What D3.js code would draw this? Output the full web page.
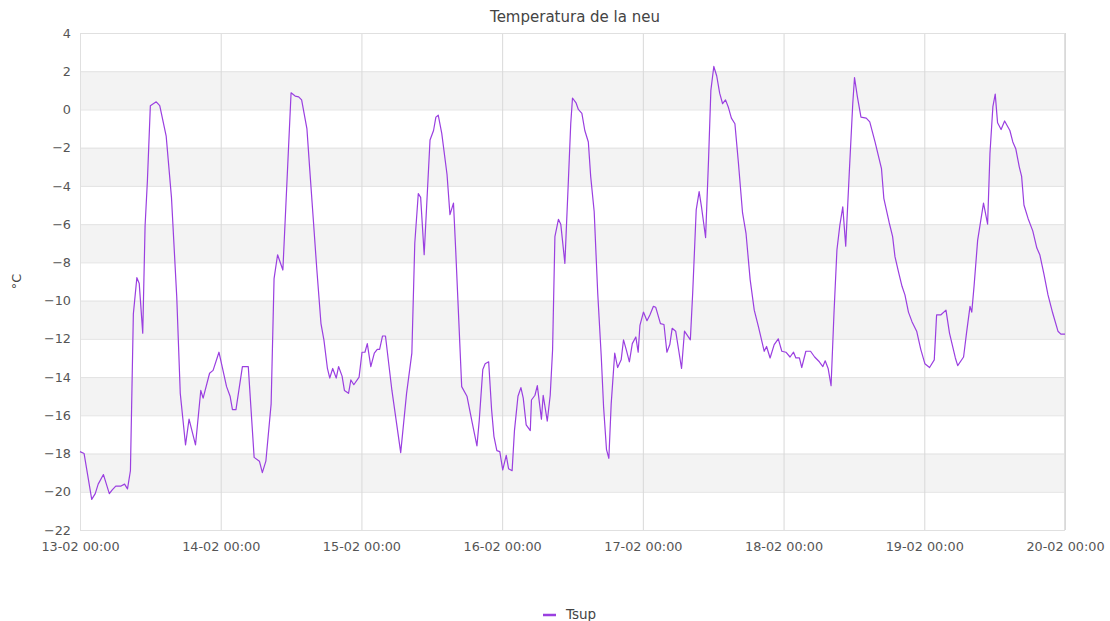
<!DOCTYPE html>
<html lang="ca">
<head>
    <meta charset="UTF-8">
    <title>Temperatura de la neu</title>
    <script src="https://cdn.jsdelivr.net/npm/d3@7/dist/d3.min.js"></script>
    <style>
        html, body {
            margin: 0;
            padding: 0;
            background: #fff;
        }
        #chart text {
            font-family: "DejaVu Sans", Verdana, sans-serif;
        }
    </style>
</head>
<body>
<div id="chart"></div>

<script>
    // hores des de 13-02 00:00
    var hores = [
        0, 0.7, 2.0, 2.6, 3.1, 4.0, 5.0, 5.5, 6.1, 7.0, 7.6, 8.1, 8.6, 9.1, 9.7, 10.1, 10.7, 11.1, 11.5,
        12.0, 13.0, 13.6, 14.7, 15.6, 16.5, 17.1, 18.0, 18.6, 19.7, 20.6, 21.0, 22.1, 22.7, 23.7,
        25.0, 25.6, 26.0, 26.6, 27.7, 28.7, 29.7, 30.6, 31.1, 31.7, 32.6, 33.1, 33.7, 34.6, 35.1,
        36.0, 36.7, 37.3, 37.8, 38.7, 39.2, 39.8, 40.4, 41.1, 41.6, 42.2, 42.6, 43.1, 43.7, 44.1,
        44.7, 45.1, 45.8, 46.2, 46.7, 47.6, 48.1, 48.6, 49.0, 49.6, 50.2, 50.7, 51.1, 51.6, 52.1,
        53.2, 54.7, 55.7, 56.6, 57.1, 57.7, 58.1, 58.7, 59.7, 60.3, 60.7, 61.1, 61.7, 62.6, 63.1,
        63.7, 64.1, 65.1, 66.0, 66.9, 67.7, 68.1, 68.7, 69.1, 69.7, 70.2, 70.6, 71.1, 71.6, 72.1,
        72.7, 73.1, 73.7, 74.1, 74.7, 75.2, 75.6, 76.1, 76.8, 77.0, 77.6, 78.0, 78.7, 79.0, 79.7,
        80.2, 80.6, 81.0, 81.6, 82.0, 82.7, 83.3, 83.7, 84.0, 84.6, 85.0, 85.6, 86.1, 86.7, 87.1,
        87.7, 88.3, 88.9, 89.3, 89.8, 90.2, 90.6, 91.2, 91.7, 92.3, 92.7, 93.2, 93.7, 94.2, 94.8,
        95.2, 95.5, 96.1, 96.7, 97.2, 97.8, 98.2, 99.0, 99.6, 100.1, 100.6, 101.0, 101.6, 102.6,
        103.1, 104.1, 104.5, 105.1, 105.6, 106.0, 106.7, 107.2, 107.6, 108.1, 108.6, 109.1, 109.6,
        110.1, 110.6, 111.1, 111.7, 112.3, 113.0, 113.6, 114.3, 115.0, 115.7, 116.7, 117.1, 117.7,
        118.4, 119.1, 119.7, 120.4, 121.1, 121.7, 122.1, 122.7, 123.1, 123.8, 124.6, 125.3, 126.1,
        126.7, 127.1, 127.6, 128.1, 128.6, 129.1, 129.6, 130.1, 130.6, 131.2, 131.8, 132.1, 132.6,
        133.2, 134.1, 134.7, 135.6, 136.7, 137.1, 138.0, 138.6, 139.0, 139.6, 140.2, 140.7, 141.3,
        141.9, 142.7, 143.4, 144.1, 144.9, 145.7, 146.1, 146.8, 147.7, 148.3, 149.3, 149.7, 150.7,
        151.2, 151.8, 152.1, 152.5, 153.1, 154.1, 154.8, 155.2, 155.7, 156.1, 156.5, 157.1, 157.7,
        158.6, 159.1, 159.6, 160.2, 160.6, 161.0, 161.7, 162.5, 163.2, 163.7, 164.4, 165.1, 165.9,
        166.8, 167.3, 168.0
    ];

    var tsup = [
        -17.9, -18.0, -20.4, -20.1, -19.6, -19.1, -20.1, -19.9, -19.7, -19.7, -19.6, -19.85, -18.9, -10.7, -8.8, -9.1, -11.7, -6.1, -3.7,
        0.2, 0.4, 0.2, -1.4, -4.6, -9.8, -14.85, -17.55, -16.2, -17.55, -14.7, -15.1, -13.8, -13.65, -12.7,
        -14.5, -15.0, -15.7, -15.7, -13.45, -13.45, -18.2, -18.4, -19.0, -18.4, -15.4, -8.85, -7.6, -8.4, -5.1,
        0.87, 0.7, 0.66, 0.5, -1.0, -3.2, -5.8, -8.4, -11.2, -12.05, -13.55, -14.05, -13.55, -14.05, -13.45,
        -13.95, -14.7, -14.85, -14.15, -14.4, -14.0, -12.7, -12.7, -12.25, -13.45, -12.75, -12.55, -12.55, -11.85, -11.85,
        -14.7, -17.95, -14.85, -12.75, -7.0, -4.4, -4.6, -7.6, -1.6, -1.1, -0.4, -0.3, -1.25, -3.4, -5.5,
        -4.9, -7.5, -14.5, -15.0, -16.4, -17.6, -16.25, -13.6, -13.3, -13.2, -15.7, -17.1, -17.85, -17.9, -18.85,
        -18.1, -18.8, -18.9, -16.8, -15.0, -14.55, -15.1, -16.5, -16.8, -15.2, -14.95, -14.45, -16.2, -14.95, -16.3,
        -14.95, -12.6, -6.65, -5.75, -6.0, -8.05, -3.7, -0.75, 0.6, 0.35, 0.0, -0.2, -1.1, -1.7, -3.5,
        -5.35, -9.6, -12.9, -15.55, -17.8, -18.25, -15.4, -12.75, -13.5, -13.1, -12.05, -12.6, -13.2, -12.25, -11.9,
        -12.7, -11.3, -10.6, -11.05, -10.75, -10.3, -10.35, -11.2, -11.25, -12.7, -12.3, -11.45, -11.6, -13.55,
        -11.6, -12.05, -9.6, -5.25, -4.3, -5.1, -6.7, -2.65, 1.0, 2.25, 1.75, 0.85, 0.3,
        0.5, 0.1, -0.45, -0.75, -2.8, -5.4, -6.5, -8.9, -10.5, -11.35, -12.65, -12.4, -13.0,
        -12.3, -12.0, -12.65, -12.7, -12.95, -12.7, -13.0, -13.0, -13.5, -12.65, -12.65, -12.95, -13.2,
        -13.45, -13.15, -13.55, -14.45, -10.65, -7.35, -6.05, -5.1, -7.15, -3.35, 0.3, 1.67, 0.65,
        -0.4, -0.45, -0.65, -1.7, -3.1, -4.65, -5.9, -6.65, -7.7, -8.5, -9.25, -9.7, -10.6,
        -11.1, -11.6, -12.55, -13.3, -13.5, -13.1, -10.75, -10.75, -10.5, -11.7, -13.0, -13.4, -12.95,
        -11.7, -10.3, -10.6, -9.2, -6.85, -4.9, -6.0, -2.3, 0.15, 0.8, -0.7, -1.05, -0.6,
        -1.1, -1.7, -2.05, -3.0, -3.5, -5.0, -5.7, -6.35, -7.25, -7.6, -8.6, -9.7, -10.65,
        -11.6, -11.75, -11.75
    ];

    var yTicks = [4, 2, 0, -2, -4, -6, -8, -10, -12, -14, -16, -18, -20, -22];
    var bandes = [[0, 2], [-4, -2], [-8, -6], [-12, -10], [-16, -14], [-20, -18]];

    var inici = new Date(2024, 1, 13, 0, 0);
    var fi = new Date(2024, 1, 20, 0, 0);

    var W = 1110, H = 621;
    var m = {left: 80, right: 45, top: 33, bottom: 91};

    var svg = d3.select("#chart").append("svg")
        .attr("width", W)
        .attr("height", H);

    var x = d3.scaleTime().domain([inici, fi]).range([m.left, W - m.right]);
    var y = d3.scaleLinear().domain([-22, 4]).range([H - m.bottom, m.top]);

    // bandes grises
    svg.append("g").selectAll("rect")
        .data(bandes)
        .enter().append("rect")
        .attr("x", m.left)
        .attr("width", W - m.right - m.left)
        .attr("y", function (d) { return y(d[1]); })
        .attr("height", function (d) { return y(d[0]) - y(d[1]); })
        .attr("fill", "#f3f3f3");

    // graella horitzontal
    var yAxis = svg.append("g")
        .attr("transform", "translate(" + m.left + ",0)")
        .call(d3.axisLeft(y).tickValues(yTicks)
            .tickSize(-(W - m.right - m.left))
            .tickPadding(9));
    yAxis.select(".domain").remove();
    yAxis.selectAll("line").attr("stroke", "#e3e3e3");
    yAxis.selectAll("text").attr("fill", "#555").style("font-size", "12.8px");

    // graella vertical
    var xAxis = svg.append("g")
        .attr("transform", "translate(0," + (H - m.bottom) + ")")
        .call(d3.axisBottom(x).ticks(d3.timeDay.every(1))
            .tickFormat(d3.timeFormat("%d-%m %H:%M"))
            .tickSize(-(H - m.bottom - m.top))
            .tickPadding(12));
    xAxis.select(".domain").remove();
    xAxis.selectAll("line").attr("stroke", "#d9d9d9");
    xAxis.selectAll("text").attr("fill", "#555").style("font-size", "12.8px");

    // vora
    svg.append("rect")
        .attr("x", m.left + 0.5)
        .attr("y", m.top + 0.5)
        .attr("width", W - m.right - m.left - 1)
        .attr("height", H - m.bottom - m.top)
        .attr("fill", "none")
        .attr("stroke", "#e0e0e0");

    var punts = hores.map(function (h, i) {
        return {t: d3.timeMinute.offset(inici, Math.round(h * 60)), v: tsup[i]};
    });

    var linia = d3.line()
        .x(function (d) { return x(d.t); })
        .y(function (d) { return y(d.v); });

    svg.append("path")
        .datum(punts)
        .attr("d", linia)
        .attr("fill", "none")
        .attr("stroke", "#9a3fe0")
        .attr("stroke-width", 1.2)
        .attr("stroke-linejoin", "round");

    // títol
    svg.append("text")
        .attr("x", 575)
        .attr("y", 22)
        .attr("text-anchor", "middle")
        .attr("fill", "#444")
        .style("font-size", "15px")
        .text("Temperatura de la neu");

    // unitat eix y
    svg.append("text")
        .attr("transform", "translate(21," + ((m.top + H - m.bottom) / 2) + ") rotate(-90)")
        .attr("text-anchor", "middle")
        .attr("fill", "#444")
        .style("font-size", "12.8px")
        .text("°C");

    // llegenda
    var lleg = svg.append("g").attr("transform", "translate(543,614)");
    lleg.append("line")
        .attr("x1", 0).attr("x2", 13)
        .attr("y1", 1).attr("y2", 1)
        .attr("stroke", "#9a3fe0")
        .attr("stroke-width", 2.5);
    lleg.append("text")
        .attr("x", 23)
        .attr("y", 5)
        .attr("fill", "#444")
        .style("font-size", "13.5px")
        .text("Tsup");
</script>
</body>
</html>
